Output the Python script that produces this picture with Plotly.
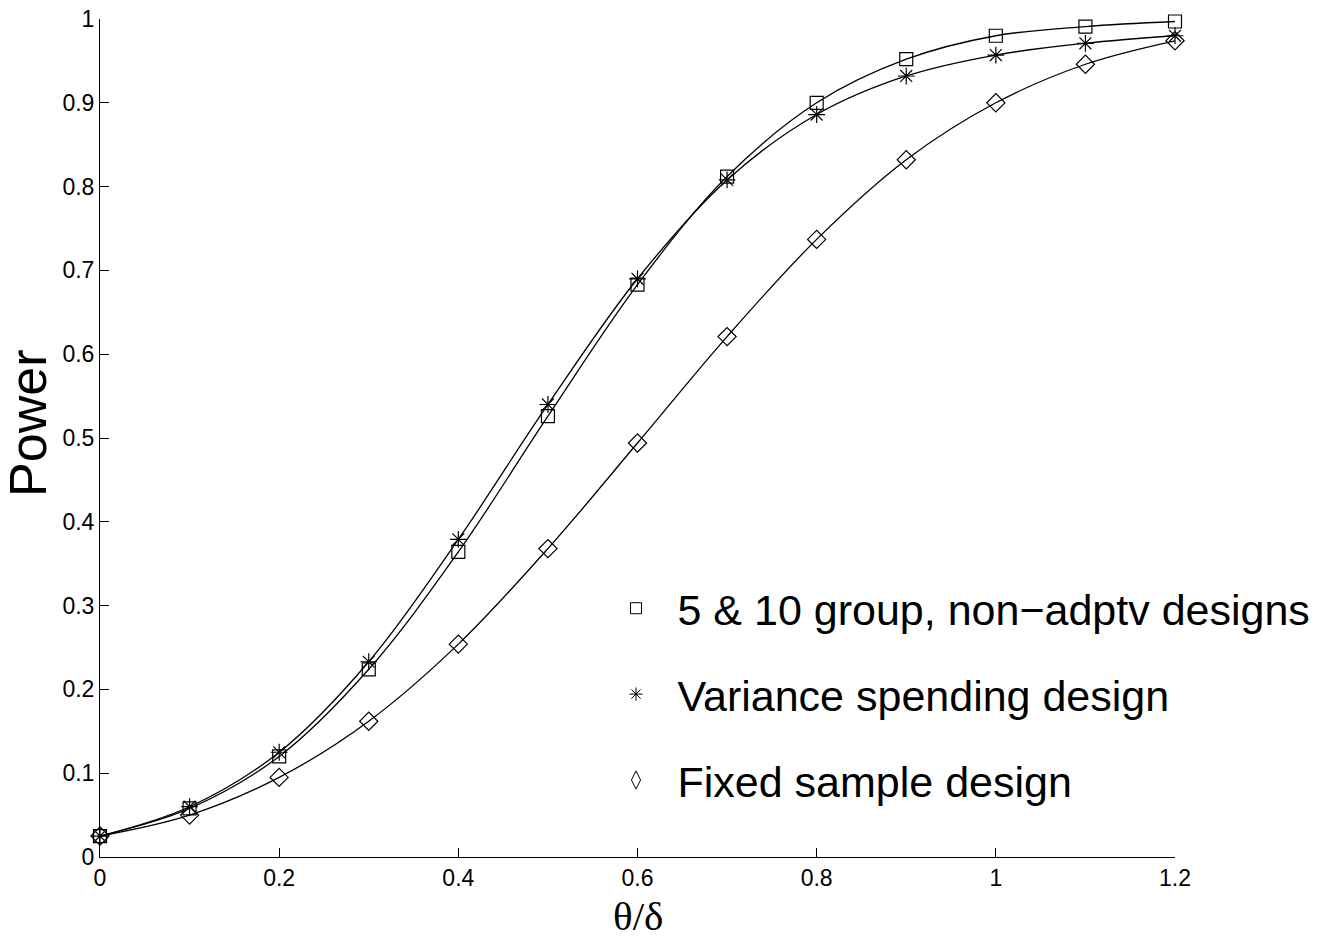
import plotly.graph_objects as go

theta = [0.0, 0.1, 0.2, 0.3, 0.4, 0.5, 0.6, 0.7, 0.8, 0.9, 1.0, 1.1, 1.2]
power_group = [0.025, 0.058, 0.120, 0.224, 0.364, 0.526, 0.683, 0.812, 0.900, 0.952, 0.980, 0.991, 0.997]
power_variance = [0.025, 0.060, 0.125, 0.233, 0.379, 0.540, 0.690, 0.808, 0.886, 0.932, 0.957, 0.971, 0.980]
power_fixed = [0.025, 0.050, 0.095, 0.162, 0.254, 0.368, 0.494, 0.621, 0.737, 0.832, 0.900, 0.946, 0.974]

x_ticks = [0, 0.2, 0.4, 0.6, 0.8, 1.0, 1.2]
x_ticktext = ["0", "0.2", "0.4", "0.6", "0.8", "1", "1.2"]
y_ticks = [0, 0.1, 0.2, 0.3, 0.4, 0.5, 0.6, 0.7, 0.8, 0.9, 1.0]
y_ticktext = ["0", "0.1", "0.2", "0.3", "0.4", "0.5", "0.6", "0.7", "0.8", "0.9", "1"]

x_title = "\u03b8/\u03b4"
y_title = "Power"
labels = ["5 & 10 group, non\u2212adptv designs", "Variance spending design", "Fixed sample design"]
symbols = ["square-open", "asterisk-open", "diamond-open"]
legend_symbols = ["square-open", "asterisk-open", "diamond-tall-open"]
sizes = [13, 14, 14]
legend_sizes = [11, 11, 13]
series = [power_group, power_variance, power_fixed]

FONT = "Liberation Sans, Arial, Helvetica, sans-serif"
SERIF = "Liberation Serif, Times New Roman, serif"

fig = go.Figure()
for ys in series:
    fig.add_trace(go.Scatter(x=theta, y=ys, mode="lines",
                             line=dict(color="black", width=1.3, shape="spline", smoothing=1.0),
                             showlegend=False, hoverinfo="skip", cliponaxis=False))
for ys, sym, sz in zip(series, symbols, sizes):
    fig.add_trace(go.Scatter(x=theta, y=ys, mode="markers",
                             marker=dict(symbol=sym, size=sz, color="black",
                                         line=dict(color="black", width=1.2)),
                             showlegend=False, cliponaxis=False))
for i, (lab, sym, sz) in enumerate(zip(labels, legend_symbols, legend_sizes)):
    fig.add_trace(go.Scatter(x=[None], y=[None], mode="markers", name="\u2002" + lab,
                             legendgroup=f"g{i}",
                             marker=dict(symbol=sym, size=sz, color="black",
                                         line=dict(color="black", width=1.0))))

fig.add_annotation(text=x_title, xref="paper", yref="paper", x=0.5005, y=-0.0705,
                   xanchor="center", yanchor="middle", showarrow=False,
                   font=dict(family=SERIF, size=41, color="black"))
fig.add_annotation(text=y_title, xref="paper", yref="paper", x=-0.067, y=0.518,
                   xanchor="center", yanchor="middle", showarrow=False, textangle=-90,
                   font=dict(family=FONT, size=52, color="black"))

fig.update_layout(
    width=1326, height=940,
    margin=dict(l=100, r=151, t=19, b=83, autoexpand=False),
    paper_bgcolor="white", plot_bgcolor="white",
    font=dict(family=FONT, color="black", size=23),
    showlegend=True,
    legend=dict(x=0.48, y=0.338, xanchor="left", yanchor="top",
                font=dict(family=FONT, size=43, color="black"),
                bgcolor="rgba(0,0,0,0)", tracegroupgap=27),
    xaxis=dict(range=[0, 1.2], tickvals=x_ticks, ticktext=x_ticktext,
               showgrid=False, zeroline=False, automargin=False,
               showline=True, linecolor="black", linewidth=1,
               ticks="inside", ticklen=9, tickcolor="black",
               ticklabeloverflow="allow",
               tickfont=dict(family=FONT, size=23)),
    yaxis=dict(range=[0, 1], tickvals=y_ticks, ticktext=y_ticktext,
               showgrid=False, zeroline=False, automargin=False,
               showline=True, linecolor="black", linewidth=1,
               ticks="inside", ticklen=9, tickcolor="black",
               ticklabeloverflow="allow",
               tickfont=dict(family=FONT, size=23)),
)

fig.write_html("out.html", config={"displayModeBar": False},
               post_script="document.body.style.margin='0';document.body.style.overflow='hidden';")
